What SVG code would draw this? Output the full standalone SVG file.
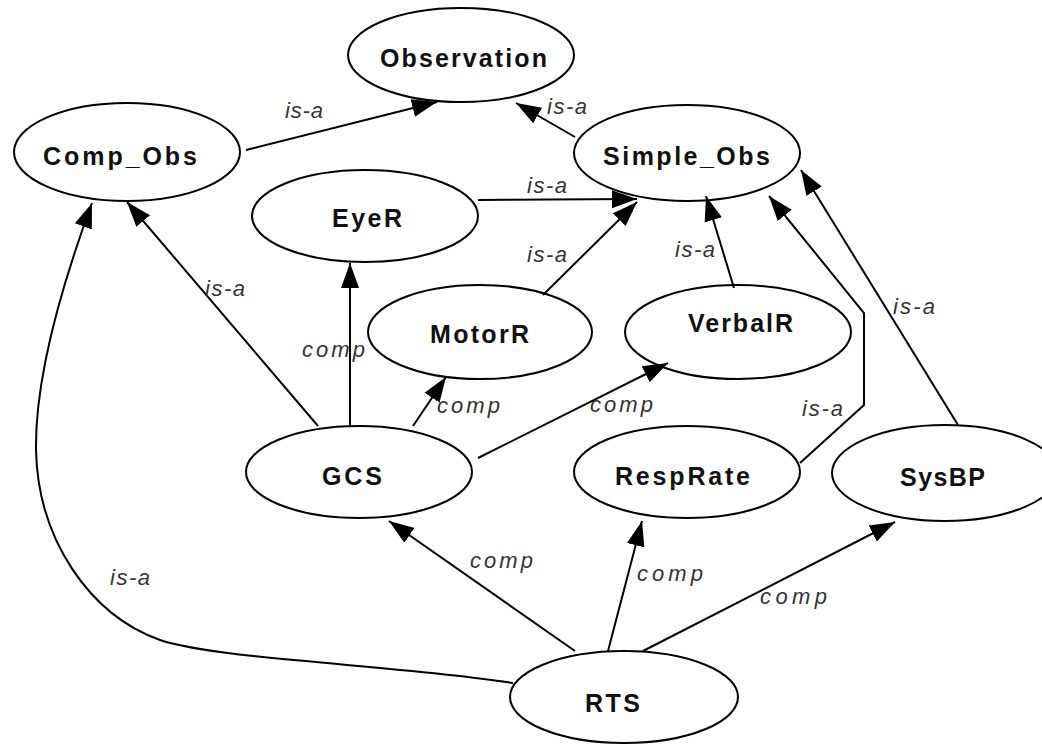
<svg xmlns="http://www.w3.org/2000/svg" width="1042" height="745" viewBox="0 0 1042 745">
<style>
.node ellipse{fill:#fff;stroke:#000;stroke-width:2}
.node text{font-family:"Liberation Sans",Arial,sans-serif;font-weight:bold;font-size:25px;fill:#111}
.edge{fill:none;stroke:#000;stroke-width:2;marker-end:url(#arr)}
.lbl{font-family:"Liberation Sans",Arial,sans-serif;font-style:italic;font-size:22px;fill:#333}
</style>
<defs>
<marker id="arr" markerUnits="userSpaceOnUse" markerWidth="26" markerHeight="20" refX="25" refY="9" orient="auto" viewBox="0 0 26 18">
<path d="M0,0 L25,9 L0,18 z" fill="#000"/>
</marker>
</defs>
<rect width="1042" height="745" fill="#fff"/>
<g id="nodes">
<g id="Observation" class="node"><ellipse cx="461" cy="55" rx="113" ry="47"/><text x="380" y="67" textLength="167" lengthAdjust="spacing">Observation</text></g>
<g id="Comp_Obs" class="node"><ellipse cx="127" cy="152" rx="113" ry="49"/><text x="43" y="165" textLength="154" lengthAdjust="spacing">Comp_Obs</text></g>
<g id="Simple_Obs" class="node"><ellipse cx="687" cy="153" rx="113" ry="48"/><text x="603" y="165" textLength="167" lengthAdjust="spacing">Simple_Obs</text></g>
<g id="EyeR" class="node"><ellipse cx="365" cy="216" rx="113" ry="46"/><text x="332" y="227" textLength="70" lengthAdjust="spacing">EyeR</text></g>
<g id="MotorR" class="node"><ellipse cx="480" cy="332" rx="112" ry="47"/><text x="430" y="343" textLength="99" lengthAdjust="spacing">MotorR</text></g>
<g id="VerbalR" class="node"><ellipse cx="738" cy="332" rx="113" ry="47"/><text x="688" y="332" textLength="105" lengthAdjust="spacing">VerbalR</text></g>
<g id="GCS" class="node"><ellipse cx="359" cy="472" rx="113" ry="46"/><text x="322" y="485" textLength="60" lengthAdjust="spacing">GCS</text></g>
<g id="RespRate" class="node"><ellipse cx="687" cy="472" rx="113" ry="46"/><text x="615" y="485" textLength="135" lengthAdjust="spacing">RespRate</text></g>
<g id="SysBP" class="node"><ellipse cx="945" cy="473" rx="113" ry="48"/><text x="900" y="486" textLength="85" lengthAdjust="spacing">SysBP</text></g>
<g id="RTS" class="node"><ellipse cx="624" cy="697" rx="114" ry="46"/><text x="585" y="712" textLength="55" lengthAdjust="spacing">RTS</text></g>
</g>
<g id="connectors">
<path class="edge" d="M246,150 L437,102"/>
<path class="edge" d="M575,137 L516,103"/>
<path class="edge" d="M478,200 L637,199"/>
<path class="edge" d="M543,295 L637,202"/>
<path class="edge" d="M734,288 L706,196"/>
<path class="edge" d="M800,463 L864,405 L864,313 L769,196"/>
<path class="edge" d="M958,425 L801,170"/>
<path class="edge" d="M318,426 L127,202"/>
<path class="edge" d="M513,683 C400,665 220,660 160,640 C90,615 38,540 36,450 C35,380 60,290 92,203"/>
<path class="edge" d="M350,426 L350,263"/>
<path class="edge" d="M413,426 L446,377"/>
<path class="edge" d="M478,458 L668,363"/>
<path class="edge" d="M575,651 L389,521"/>
<path class="edge" d="M608,651 L642,521"/>
<path class="edge" d="M643,651 L895,522"/>
</g>
<g id="labels">
<text class="lbl" x="285" y="118" textLength="38" lengthAdjust="spacing">is-a</text>
<text class="lbl" x="547" y="114" textLength="40" lengthAdjust="spacing">is-a</text>
<text class="lbl" x="527" y="193" textLength="40" lengthAdjust="spacing">is-a</text>
<text class="lbl" x="527" y="262" textLength="40" lengthAdjust="spacing">is-a</text>
<text class="lbl" x="675" y="257" textLength="40" lengthAdjust="spacing">is-a</text>
<text class="lbl" x="802" y="416" textLength="41" lengthAdjust="spacing">is-a</text>
<text class="lbl" x="893" y="314" textLength="42" lengthAdjust="spacing">is-a</text>
<text class="lbl" x="205" y="296" textLength="40" lengthAdjust="spacing">is-a</text>
<text class="lbl" x="110" y="585" textLength="40" lengthAdjust="spacing">is-a</text>
<text class="lbl" x="302" y="357" textLength="63" lengthAdjust="spacing">comp</text>
<text class="lbl" x="437" y="413" textLength="63" lengthAdjust="spacing">comp</text>
<text class="lbl" x="590" y="412" textLength="63" lengthAdjust="spacing">comp</text>
<text class="lbl" x="470" y="568" textLength="63" lengthAdjust="spacing">comp</text>
<text class="lbl" x="637" y="581" textLength="66" lengthAdjust="spacing">comp</text>
<text class="lbl" x="760" y="604" textLength="67" lengthAdjust="spacing">comp</text>
</g>
</svg>
